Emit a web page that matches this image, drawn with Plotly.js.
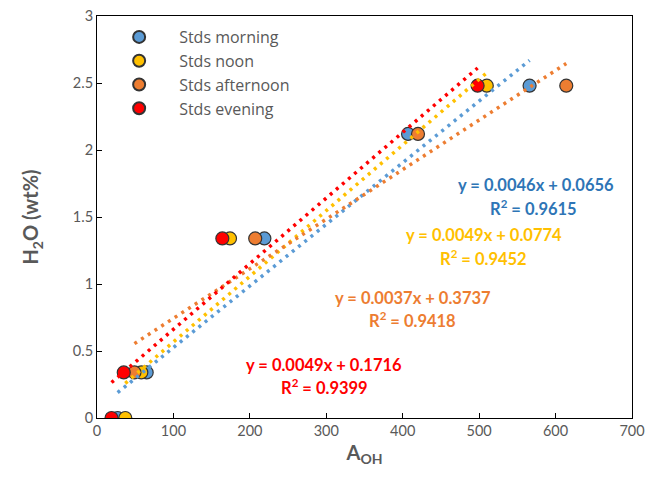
<!DOCTYPE html>
<html>
<head>
<meta charset="utf-8">
<script src="https://cdn.plot.ly/plotly-3.0.1.min.js"></script>
<style>html,body{margin:0;padding:0;background:#fff;}</style>
</head>
<body>
<div id="chart" style="width:648px;height:488px;"></div>
<script>
// Data
const seriesNames = ["Stds morning", "Stds noon", "Stds afternoon", "Stds evening"];
const morningX = [27, 65, 219, 407, 566];
const morningY = [0, 0.34, 1.34, 2.12, 2.48];
const noonX = [37, 58, 174, 510];
const noonY = [0, 0.34, 1.34, 2.48];
const afternoonX = [49, 207, 420, 614];
const afternoonY = [0.34, 1.34, 2.12, 2.48];
const eveningX = [19, 35, 164, 498];
const eveningY = [0, 0.34, 1.34, 2.48];
// Trendline fits (as labelled in the chart)
const slopes = [0.0046, 0.0049, 0.0037, 0.0049];
const intercepts = [0.0656, 0.0774, 0.3737, 0.1716];
const r2 = ["0.9615", "0.9452", "0.9418", "0.9399"];
const eqLabels = ["y = 0.0046x + 0.0656", "y = 0.0049x + 0.0774", "y = 0.0037x + 0.3737", "y = 0.0049x + 0.1716"];

const markerColors = ["#5B9BD5", "#FFC000", "#ED7D31", "#FF0000"];
const textColors = ["#2E75B6", "#FFC000", "#ED7D31", "#FF0000"];
const xs = [morningX, noonX, afternoonX, eveningX];
const ys = [morningY, noonY, afternoonY, eveningY];

const FONT = "Lato, 'Open Sans', sans-serif";
const traces = [];
for (let i = 0; i < 4; i++) {
  traces.push({
    type: "scatter", mode: "markers", name: seriesNames[i],
    x: xs[i], y: ys[i],
    marker: {size: 13, color: markerColors[i], line: {color: "#333333", width: 1.2}},
    showlegend: true
  });
}
for (let i = 0; i < 4; i++) {
  const x0 = Math.min(...xs[i]), x1 = Math.max(...xs[i]);
  traces.push({
    type: "scatter", mode: "lines", showlegend: false, hoverinfo: "skip",
    x: [x0, x1], y: [slopes[i] * x0 + intercepts[i], slopes[i] * x1 + intercepts[i]],
    line: {color: markerColors[i], width: 3.5, dash: "3px,5px"}
  });
}

// label positions (data coordinates) for the equation / R² texts
const eqPosX = [574, 506, 413, 297];
const eqPosY = [1.738, 1.364, 0.894, 0.394];
const r2PosX = [571, 506, 413, 298];
const r2PosY = [1.566, 1.193, 0.730, 0.229];
const annotations = [];
for (let i = 0; i < 4; i++) {
  annotations.push({x: eqPosX[i], y: eqPosY[i], xref: "x", yref: "y", text: "<b>" + eqLabels[i] + "</b>",
    showarrow: false, font: {family: FONT, size: 16.5, color: textColors[i]}});
  annotations.push({x: r2PosX[i], y: r2PosY[i], xref: "x", yref: "y", text: "<b>R<sup>2</sup> = " + r2[i] + "</b>",
    showarrow: false, font: {family: FONT, size: 16.5, color: textColors[i]}});
}

const layout = {
  width: 648, height: 488,
  margin: {l: 97.3, r: 15.7, t: 16, b: 70.3},
  paper_bgcolor: "#ffffff", plot_bgcolor: "#ffffff",
  font: {family: FONT, color: "#595959"},
  showlegend: true,
  legend: {x: 0.004, y: 0.99, xanchor: "left", yanchor: "top", bgcolor: "rgba(0,0,0,0)",
    font: {family: "'Open Sans', Lato, sans-serif", size: 16, color: "#595959"}, itemsizing: "constant", itemwidth: 70},
  xaxis: {
    range: [0, 700], dtick: 100, tick0: 0, showgrid: false, zeroline: false,
    showline: true, linecolor: "#000000", linewidth: 1, mirror: true,
    ticks: "inside", ticklen: 5, tickcolor: "#000000",
    tickfont: {family: FONT, size: 14.5, color: "#595959"},
    title: {text: "<b>A<sub>OH</sub></b>", font: {family: FONT, size: 20, color: "#595959"}, standoff: 7}
  },
  yaxis: {
    range: [0, 3], dtick: 0.5, tick0: 0, showgrid: false, zeroline: false,
    showline: true, linecolor: "#000000", linewidth: 1, mirror: true,
    ticks: "inside", ticklen: 5, tickcolor: "#000000",
    tickfont: {family: FONT, size: 14.5, color: "#595959"},
    title: {text: "<b>H<sub>2</sub>O (wt%)</b>", font: {family: FONT, size: 20, color: "#595959"}, standoff: 28}
  },
  annotations: annotations
};
Plotly.newPlot("chart", traces, layout, {displayModeBar: false, staticPlot: true});
</script>
</body>
</html>
